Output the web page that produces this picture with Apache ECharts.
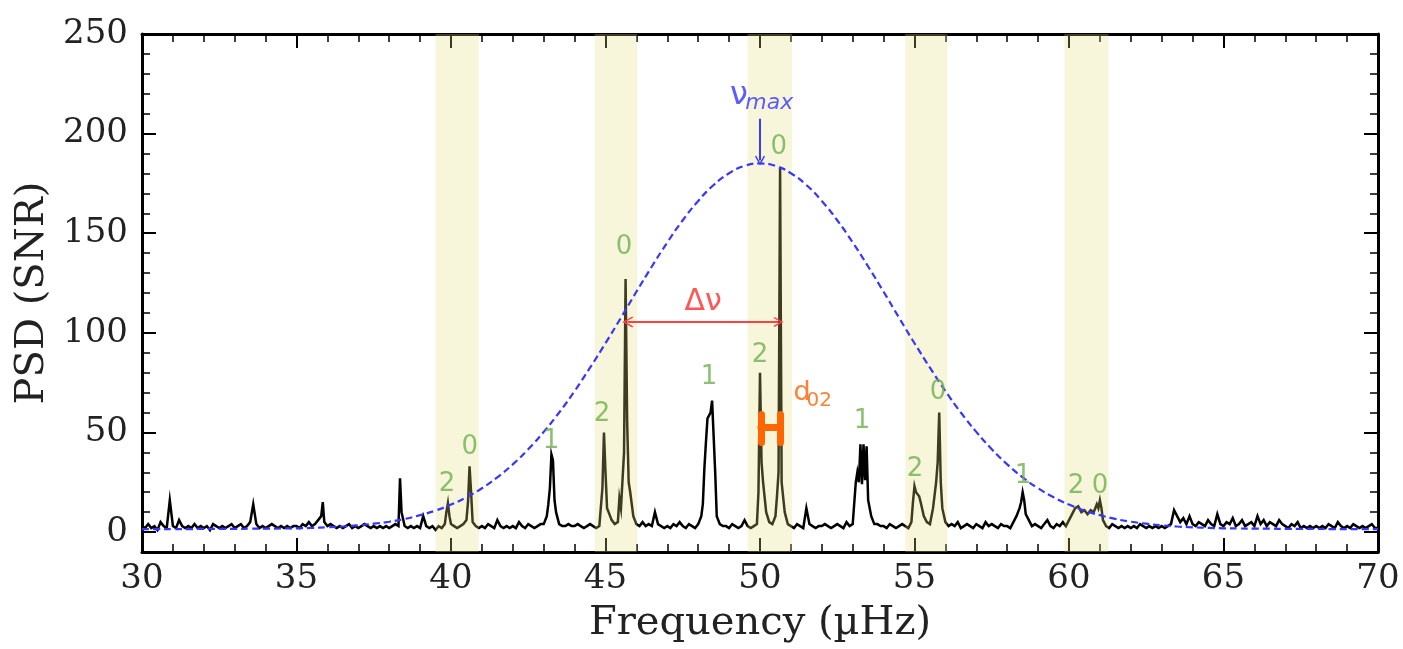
<!DOCTYPE html>
<html>
<head>
<meta charset="utf-8">
<script src="https://cdn.jsdelivr.net/npm/echarts@6/dist/echarts.min.js"></script>
<style>
html,body{margin:0;padding:0;background:#fff;}
#chart{width:1403px;height:649px;}
</style>
</head>
<body>
<div id="chart"></div>
<script>
// ---------- DATA ----------
const xTicks = [30, 35, 40, 45, 50, 55, 60, 65, 70];
const yTickLabels = [0, 50, 100, 150, 200, 250];
const yMinorTicks = [10, 20, 30, 40, 60, 70, 80, 90, 110, 120, 130, 140, 160, 170, 180, 190, 210, 220, 230, 240];

// background noise of the power spectrum, one value per 0.1 µHz from 30.0 to 70.0
const noiseStart = 30.0;
const noiseStep = 0.1;
const noisePsd = [
  3,2,4,2,3,1,5,3,2,4,
  3,2,6,3,2,3,2,4,2,3,
  2,3,1,4,3,2,3,2,3,4,
  2,3,4,2,3,5,3,4,2,3,
  2,3,4,3,2,3,2,3,2,3,
  3,2,4,3,5,3,4,6,8,5,
  3,4,3,2,3,2,3,4,2,3,
  2,3,4,3,2,3,2,3,2,3,
  2,3,4,3,5,3,2,3,2,3,
  2,8,3,2,3,1,3,2,4,3,
  4,3,2,3,4,6,10,5,3,2,
  3,2,4,3,2,6,3,2,3,2,
  3,2,5,3,2,4,3,2,3,4,
  4,8,22,36,10,4,3,3,4,3,
  3,4,3,2,3,4,3,2,3,6,
  14,10,6,4,5,12,8,30,20,8,
  4,3,5,3,4,3,10,4,3,2,
  3,2,4,3,5,3,2,4,3,2,
  4,8,32,57,60,67,8,4,3,3,
  2,4,3,2,3,6,3,2,3,4,
  35,25,10,5,4,8,20,25,10,4,
  3,2,4,3,2,12,4,3,2,3,
  3,4,3,2,3,4,3,2,5,3,
  4,20,25,22,24,20,8,4,4,3,
  3,2,4,3,2,3,4,3,2,5,
  20,22,15,8,5,4,12,25,40,12,
  5,3,4,3,5,2,3,4,3,2,
  4,3,2,5,3,4,3,2,4,3,
  3,2,5,8,12,18,9,6,3,4,
  3,2,4,6,3,2,4,3,5,3,
  6,9,12,13,10,11,9,11,10,14,
  16,6,3,2,4,3,2,3,2,3,
  2,3,2,4,3,2,3,2,3,2,
  3,2,3,4,11,8,5,7,4,8,
  4,3,5,4,3,6,4,3,9,4,
  3,5,4,7,3,4,6,3,4,5,
  3,8,4,6,3,5,4,3,6,4,
  3,2,4,3,5,2,3,2,3,2,
  3,2,3,2,4,3,2,5,3,2,
  3,2,4,3,2,3,2,3,4,2,
  2
];

// resolved mode peaks [frequency µHz, PSD]
const peakFreq = [30.9, 33.6, 35.85, 38.35, 38.4,
  39.85, 39.9, 39.95, 40.55, 40.6, 40.65,
  43.15, 43.25, 43.35,
  44.9, 44.95, 45.0, 45.05,
  45.45, 45.6, 45.65, 45.7, 45.75,
  46.6,
  48.15, 48.25, 48.35, 48.45, 48.55,
  49.95, 50.0, 50.05,
  50.55, 50.6, 50.65, 50.7,
  51.55,
  53.1, 53.15, 53.25, 53.3, 53.35, 53.4, 53.45, 53.5,
  54.95, 55.0, 55.05, 55.1, 55.15,
  55.75, 55.8, 55.85,
  58.45, 58.5, 58.55,
  60.95, 61.0, 61.05,
  63.45];
const peakPsd = [16, 14, 15, 27, 10,
  10, 14.5, 8, 15, 33, 20,
  14, 39, 16,
  22, 50, 30, 12,
  17, 40, 127, 56, 25,
  10,
  14, 45, 58, 66, 30,
  20, 80, 35,
  18, 30, 183, 25,
  12,
  25, 30, 44, 24, 44, 26, 43, 16,
  15, 23, 20, 21, 18,
  35, 60, 25,
  15, 20, 16,
  12, 16, 12,
  11];

// Gaussian envelope (dashed blue), read at 0.5 µHz steps
const envFreq = [30,30.5,31,31.5,32,32.5,33,33.5,34,34.5,35,35.5,36,36.5,37,37.5,38,38.5,39,39.5,
  40,40.5,41,41.5,42,42.5,43,43.5,44,44.5,45,45.5,46,46.5,47,47.5,48,48.5,49,49.5,
  50,50.5,51,51.5,52,52.5,53,53.5,54,54.5,55,55.5,56,56.5,57,57.5,58,58.5,59,59.5,
  60,60.5,61,61.5,62,62.5,63,63.5,64,64.5,65,65.5,66,66.5,67,67.5,68,68.5,69,69.5,70];
const envPsd = [1.5,1.5,1.5,1.5,1.6,1.6,1.6,1.7,1.7,1.8,1.9,2.1,2.4,2.8,3.4,4.2,5.2,6.6,8.5,10.8,
  13.8,17.5,22.0,27.5,34.0,41.6,50.3,60.0,70.8,82.5,94.8,107.6,120.6,133.3,145.4,156.5,166.2,174.2,180.1,183.8,
  185.0,183.8,180.1,174.2,166.2,156.5,145.4,133.3,120.6,107.6,94.8,82.5,70.8,60.0,50.3,41.6,34.0,27.5,22.0,17.5,
  13.8,10.8,8.5,6.6,5.2,4.2,3.4,2.8,2.4,2.1,1.9,1.8,1.7,1.7,1.6,1.6,1.6,1.5,1.5,1.5,1.5];

// shaded l=0,2 regions [start, end] µHz
const bandStart = [39.5, 44.65, 49.6, 54.7, 59.85];
const bandEnd = [40.9, 46.02, 51.04, 56.06, 61.28];

// mode degree labels
const modeLabelText = ['2','0','1','2','0','1','2','0','1','2','0','1','2','0'];
const modeLabelFreq = [39.87, 40.61, 43.24, 44.89, 45.6, 48.35, 50.0, 50.61, 53.3, 55.02, 55.76, 58.51, 60.23, 61.0];
const modeLabelPsd = [24, 42.5, 45.5, 59, 143, 77.5, 89, 193, 55.5, 31.5, 70, 28, 23, 23];

// annotations
const numaxFreq = 50.0;        // arrow for ν_max
const numaxArrowPsd = [207.5, 186.5];
const deltaNuFreq = [45.72, 50.6];
const deltaNuPsd = 105.5;
const d02Freq = [50.03, 50.65];
const d02Psd = [45, 52.5, 59];

// ---------- BUILD ----------
const pointMap = new Map();
noisePsd.forEach((v, i) => {
  const f = Math.round((noiseStart + i * noiseStep) * 100) / 100;
  pointMap.set(Math.round(f * 100), [f, v]);
});
peakFreq.forEach((f, i) => {
  pointMap.set(Math.round(f * 100), [f, peakPsd[i]]);
});
const spectrum = Array.from(pointMap.values()).sort((a, b) => a[0] - b[0]);
const envelope = envFreq.map((f, i) => [f, envPsd[i]]);
const bands = bandStart.map((s, i) => [s, bandEnd[i]]);
const modeLabels = modeLabelFreq.map((f, i) => [f, modeLabelPsd[i], modeLabelText[i]]);

const SERIF = 'DejaVu Serif';
const SANS = 'DejaVu Sans';
const GREEN = '#6fb04e';
const CHEVRON = 'path://M5,0 L10,8.2 L8.9,9 L5,2.6 L1.1,9 L0,8.2 Z';

function textSeries(data, color, size, style) {
  return {
    type: 'scatter', symbolSize: 0, z: 10, silent: true,
    data: data,
    label: Object.assign({
      show: true, position: 'inside', color: color, fontSize: size, fontFamily: SANS,
      formatter: p => p.data[2]
    }, style || {}),
    xAxisIndex: 0, yAxisIndex: 0
  };
}

const baseX = {
  type: 'value', min: 30, max: 70, interval: 5,
  splitLine: { show: false },
  axisLine: { show: true, onZero: false, lineStyle: { color: '#000', width: 3 } },
  axisTick: { show: true, inside: true, length: 14, lineStyle: { color: '#000', width: 2 } },
  minorTick: { show: true, splitNumber: 5, length: 8, lineStyle: { color: '#000', width: 1.5 } }
};
function yAxisDef(pos, major, showLine, showLabel) {
  return {
    type: 'value', position: pos, min: -10, max: 250,
    splitLine: { show: false },
    axisLine: { show: showLine, onZero: false, lineStyle: { color: '#000', width: 3 } },
    axisTick: { show: true, inside: true, length: major ? 14 : 8,
      customValues: major ? yTickLabels : yMinorTicks,
      lineStyle: { color: '#000', width: major ? 2 : 1.5 } },
    axisLabel: { show: showLabel, customValues: major ? yTickLabels : yMinorTicks,
      fontFamily: SERIF, fontSize: 34, color: '#222', margin: 14 }
  };
}

const chart = echarts.init(document.getElementById('chart'));
const yLeft = yAxisDef('left', true, true, true);
yLeft.name = 'PSD (SNR)';
yLeft.nameLocation = 'middle';
yLeft.nameGap = 88;
yLeft.nameTextStyle = { fontFamily: SERIF, fontSize: 40, color: '#222' };

chart.setOption({
  animation: false,
  backgroundColor: '#fff',
  grid: { left: 142, right: 25, top: 34, bottom: 97, containLabel: false },
  xAxis: [
    Object.assign({}, baseX, {
      position: 'bottom',
      axisLabel: { fontFamily: SERIF, fontSize: 34, color: '#222', margin: 10 },
      name: 'Frequency (µHz)', nameLocation: 'middle', nameGap: 52,
      nameTextStyle: { fontFamily: SERIF, fontSize: 40, color: '#222' }
    }),
    Object.assign({}, baseX, { position: 'top', axisLabel: { show: false } })
  ],
  yAxis: [
    yLeft,
    yAxisDef('left', false, false, false),
    yAxisDef('right', true, true, false),
    yAxisDef('right', false, false, false)
  ],
  series: [
    {
      type: 'line', data: spectrum, showSymbol: false, symbol: 'none', z: 2,
      sampling: null, silent: true,
      lineStyle: { color: '#000', width: 2.5, join: 'miter' }
    },
    {
      type: 'custom', data: bands, z: 3, silent: true,
      renderItem: (params, api) => {
        const p0 = api.coord([api.value(0), 250]);
        const p1 = api.coord([api.value(1), -10]);
        return { type: 'rect', shape: { x: p0[0], y: p0[1], width: p1[0] - p0[0], height: p1[1] - p0[1] },
          style: { fill: 'rgba(228,222,118,0.27)' } };
      }
    },
    {
      type: 'line', data: envelope, showSymbol: false, symbol: 'none', smooth: true, z: 4, silent: true,
      lineStyle: { color: '#3636ff', width: 2.2, type: [7, 4] }
    },
    {
      type: 'lines', coordinateSystem: 'cartesian2d', z: 6, silent: true,
      symbol: [CHEVRON, CHEVRON], symbolSize: [11, 10],
      lineStyle: { color: '#ff4040', width: 2, opacity: 1 },
      data: [{ coords: [[deltaNuFreq[0], deltaNuPsd], [deltaNuFreq[1], deltaNuPsd]] }]
    },
    {
      type: 'lines', coordinateSystem: 'cartesian2d', z: 6, silent: true,
      symbol: ['none', CHEVRON], symbolSize: [11, 10],
      lineStyle: { color: '#3b3bff', width: 2, opacity: 1 },
      data: [{ coords: [[numaxFreq, numaxArrowPsd[0]], [numaxFreq, numaxArrowPsd[1]]] }]
    },
    {
      type: 'lines', coordinateSystem: 'cartesian2d', z: 6, silent: true,
      symbol: ['none', 'none'],
      lineStyle: { color: '#ff6600', width: 7, opacity: 1, cap: 'round' },
      data: [
        { coords: [[d02Freq[0], d02Psd[0]], [d02Freq[0], d02Psd[2]]] },
        { coords: [[d02Freq[1], d02Psd[0]], [d02Freq[1], d02Psd[2]]] },
        { coords: [[d02Freq[0], d02Psd[1]], [d02Freq[1], d02Psd[1]]] }
      ]
    },
    textSeries(modeLabels, GREEN, 26),
    textSeries([[49.32, 219, 'ν']], '#3535ff', 32),
    textSeries([[50.3, 215, 'max']], '#3535ff', 22, { fontStyle: 'italic' }),
    textSeries([[48.16, 115.5, 'Δν']], '#ff2a2a', 30),
    textSeries([[51.36, 70, 'd']], '#ff6000', 27, { fontFamily: 'Liberation Sans Narrow, ' + SANS }),
    textSeries([[51.92, 66, '02']], '#ff6000', 20, { fontFamily: 'Liberation Sans Narrow, ' + SANS })
  ]
});
</script>
</body>
</html>
